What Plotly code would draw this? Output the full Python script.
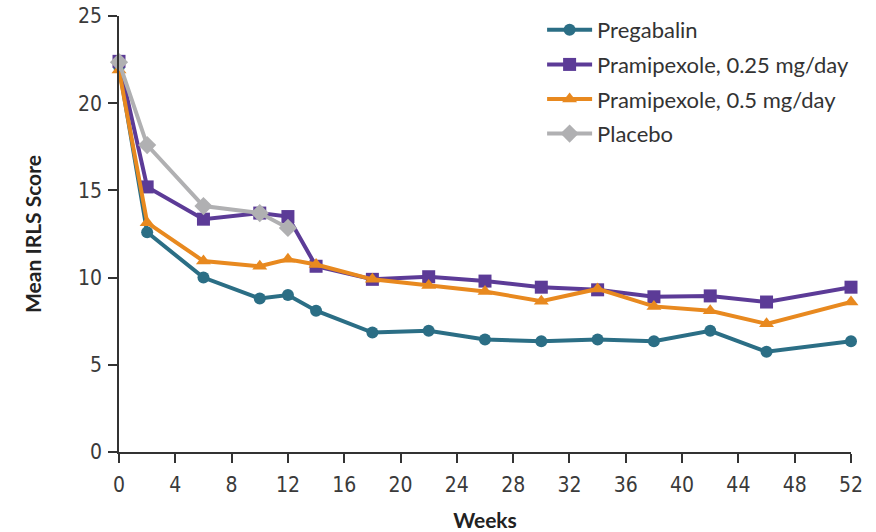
import plotly.graph_objects as go

weeks = [0, 2, 6, 10, 12, 14, 18, 22, 26, 30, 34, 38, 42, 46, 52]
placebo_weeks = [0, 2, 6, 10, 12]

pregabalin = [22.1, 12.6, 10.0, 8.8, 9.0, 8.1, 6.85, 6.95, 6.45, 6.35, 6.45, 6.35, 6.95, 5.75, 6.35]
prami_025 = [22.4, 15.2, 13.35, 13.7, 13.5, 10.65, 9.9, 10.05, 9.8, 9.45, 9.3, 8.9, 8.95, 8.6, 9.45]
prami_05 = [21.9, 13.15, 10.95, 10.65, 11.05, 10.75, 9.9, 9.55, 9.2, 8.65, 9.35, 8.35, 8.1, 7.35, 8.6]
placebo = [22.35, 17.6, 14.1, 13.7, 12.85]

names = ["Pregabalin", "Pramipexole, 0.25 mg/day", "Pramipexole, 0.5 mg/day", "Placebo"]
colors = ["#2b6e85", "#5c3b97", "#e8891f", "#b0b0b2"]
symbols = ["circle", "square", "triangle-up", "diamond"]
xs = [weeks, weeks, weeks, placebo_weeks]
ys = [pregabalin, prami_025, prami_05, placebo]
sizes = [12, 13, 13, 14]

x_ticks = list(range(0, 53, 4))
y_ticks = [0, 5, 10, 15, 20, 25]

fig = go.Figure()
for i in range(4):
    fig.add_trace(go.Scatter(
        x=xs[i], y=ys[i], name=names[i], mode="lines+markers",
        line=dict(color=colors[i], width=4),
        marker=dict(symbol=symbols[i], size=sizes[i], color=colors[i]),
        cliponaxis=False, legendgroup=str(i),
    ))

tick_font = dict(family="Liberation Sans Narrow, DejaVu Sans Condensed, sans-serif", size=21, color="#3a3a3a")
title_font = dict(family="Lato, Open Sans, sans-serif", size=21, color="#222")
fig.update_layout(
    width=876, height=532,
    margin=dict(l=119, r=25, t=16, b=80, autoexpand=False),
    paper_bgcolor="white", plot_bgcolor="white",
    showlegend=True,
    legend=dict(x=0.578, y=1.016, xanchor="left", yanchor="top", itemwidth=45,
                font=dict(family="Lato, Open Sans, sans-serif", size=22, color="#333"),
                tracegroupgap=3, bgcolor="rgba(0,0,0,0)"),
    xaxis=dict(range=[0, 52], tickvals=x_ticks, ticks="outside", ticklen=9, tickwidth=1.5,
               tickcolor="#333", showline=True, linecolor="#333", linewidth=1.5,
               showgrid=False, zeroline=False, tickfont=tick_font, ticklabelstandoff=4,
               automargin=False,
               title=dict(text="<b>Weeks</b>", font=title_font, standoff=20)),
    yaxis=dict(range=[0, 25], tickvals=y_ticks, ticks="outside", ticklen=9, tickwidth=1.5,
               tickcolor="#333", showline=True, linecolor="#333", linewidth=1.5,
               showgrid=False, zeroline=False, tickfont=tick_font, ticklabelstandoff=2,
               automargin=False,
               title=dict(text="<b>Mean IRLS Score</b>", font=title_font, standoff=31)),
)

fig.write_html("out.html")
